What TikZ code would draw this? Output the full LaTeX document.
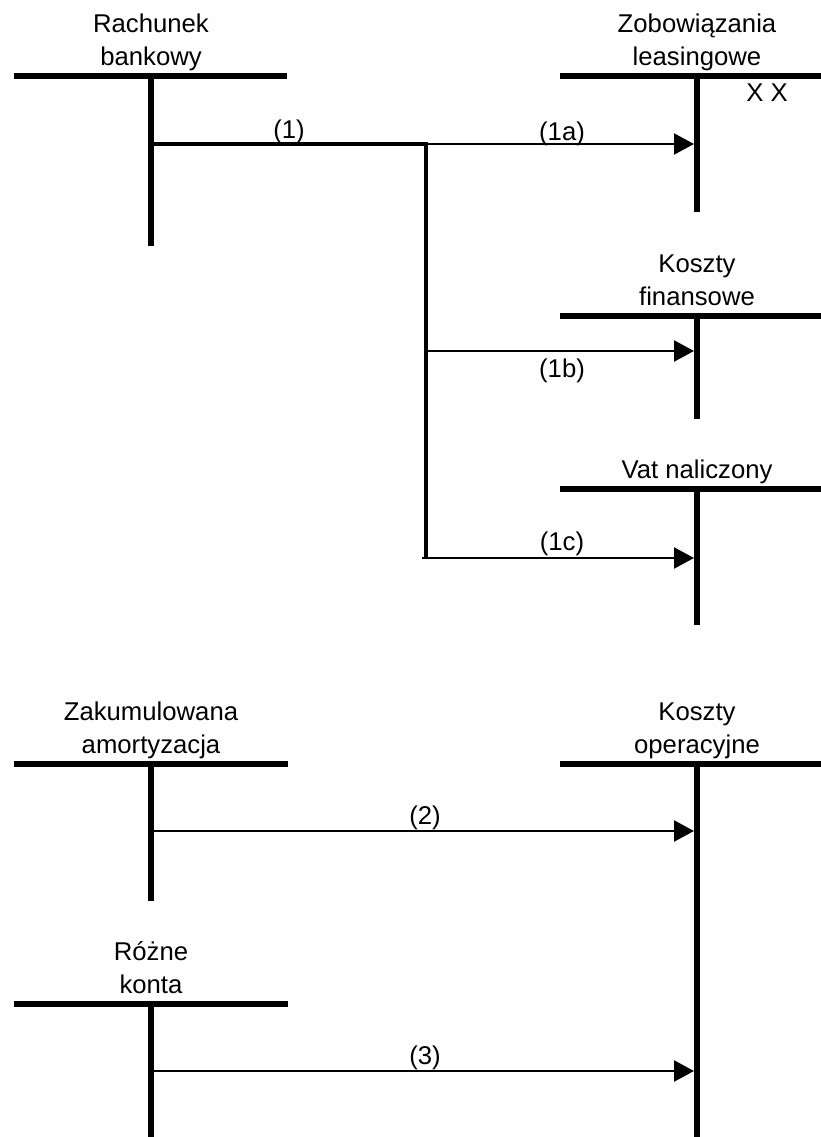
\documentclass[tikz,border=0pt]{standalone}
\usepackage{fontspec}
\setmainfont{Liberation Sans}
\usetikzlibrary{arrows.meta}

% T-account: name, centre x, bar y, bar left, bar right, stem bottom, title
\newcommand\taccount[7]{%
  \coordinate (#1-top) at (#2,#3);
  \coordinate (#1-l) at (#4,#3);
  \coordinate (#1-r) at (#5,#3);
  \coordinate (#1-bot) at (#2,#6);
  \draw[tbar] (#1-l) -- (#1-r);
  \draw[tbar] (#1-top) -- (#1-bot);
  \node[acctitle] (#1-title) at ([yshift=10pt]#1-top) {#7};
}

\begin{document}
\begin{tikzpicture}[x=1pt,y=-1pt,
  tbar/.style={line width=6pt},
  acctitle/.style={anchor=south,align=center,inner sep=0pt,text depth=0pt,
    font=\fontsize{25.7}{33}\selectfont},
  lbl/.style={anchor=base,inner sep=0pt,font=\fontsize{25.7}{33}\selectfont},
  feed/.style={line width=3.3pt},
  trunk/.style={line width=3.8pt},
  post/.style={line width=2.2pt,-{Triangle[length=20pt,width=21pt]}}
]
\useasboundingbox (0,0) rectangle (821,1137);

% accounts
\taccount{rb}{151}{76}{14}{287}{246}{Rachunek\\bankowy}
\taccount{zl}{697}{76}{560}{821}{212}{Zobowiązania\\leasingowe}
\taccount{kf}{697}{316}{560}{821}{419}{Koszty\\finansowe}
\taccount{vn}{697}{489}{560}{821}{625}{Vat naliczony}
\taccount{za}{151}{764}{14}{288}{901}{Zakumulowana\\amortyzacja}
\taccount{ko}{697}{764}{560}{821}{1137}{Koszty\\operacyjne}
\taccount{rk}{151}{1004}{14}{288}{1137}{Różne\\konta}

\node[lbl] (xx) at (767,102) {X X};

% branch points and entry points
\coordinate (rb-out) at (151,144);
\coordinate (j1) at (426,144);
\coordinate (j2) at (426,351);
\coordinate (j3) at (426,558);
\coordinate (j3s) at (422,558);
\coordinate (zl-in) at (694,144);
\coordinate (kf-in) at (694,351);
\coordinate (vn-in) at (694,558);
\coordinate (za-out) at (151,831);
\coordinate (ko-in2) at (694,831);
\coordinate (rk-out) at (151,1071);
\coordinate (ko-in3) at (694,1071);

% entry (1): payment split into (1a), (1b), (1c)
\draw[feed] (rb-out) -- (j1);
\draw[trunk] ([yshift=1.65pt]j1) -- ([yshift=-1pt]j3);
\draw[post] (j1) -- (zl-in);
\draw[post] (j2) -- (kf-in);
\draw[post] (j3s) -- (vn-in);

% entries (2) and (3)
\draw[post] (za-out) -- (ko-in2);
\draw[post] (rk-out) -- (ko-in3);

% entry labels
\node[lbl] (l1) at (289,139) {(1)};
\node[lbl] (l1a) at (562,140.5) {(1a)};
\node[lbl] (l1b) at (562,377) {(1b)};
\node[lbl] (l1c) at (562,550) {(1c)};
\node[lbl] (l2) at (425,824) {(2)};
\node[lbl] (l3) at (425,1064) {(3)};
\end{tikzpicture}
\end{document}
